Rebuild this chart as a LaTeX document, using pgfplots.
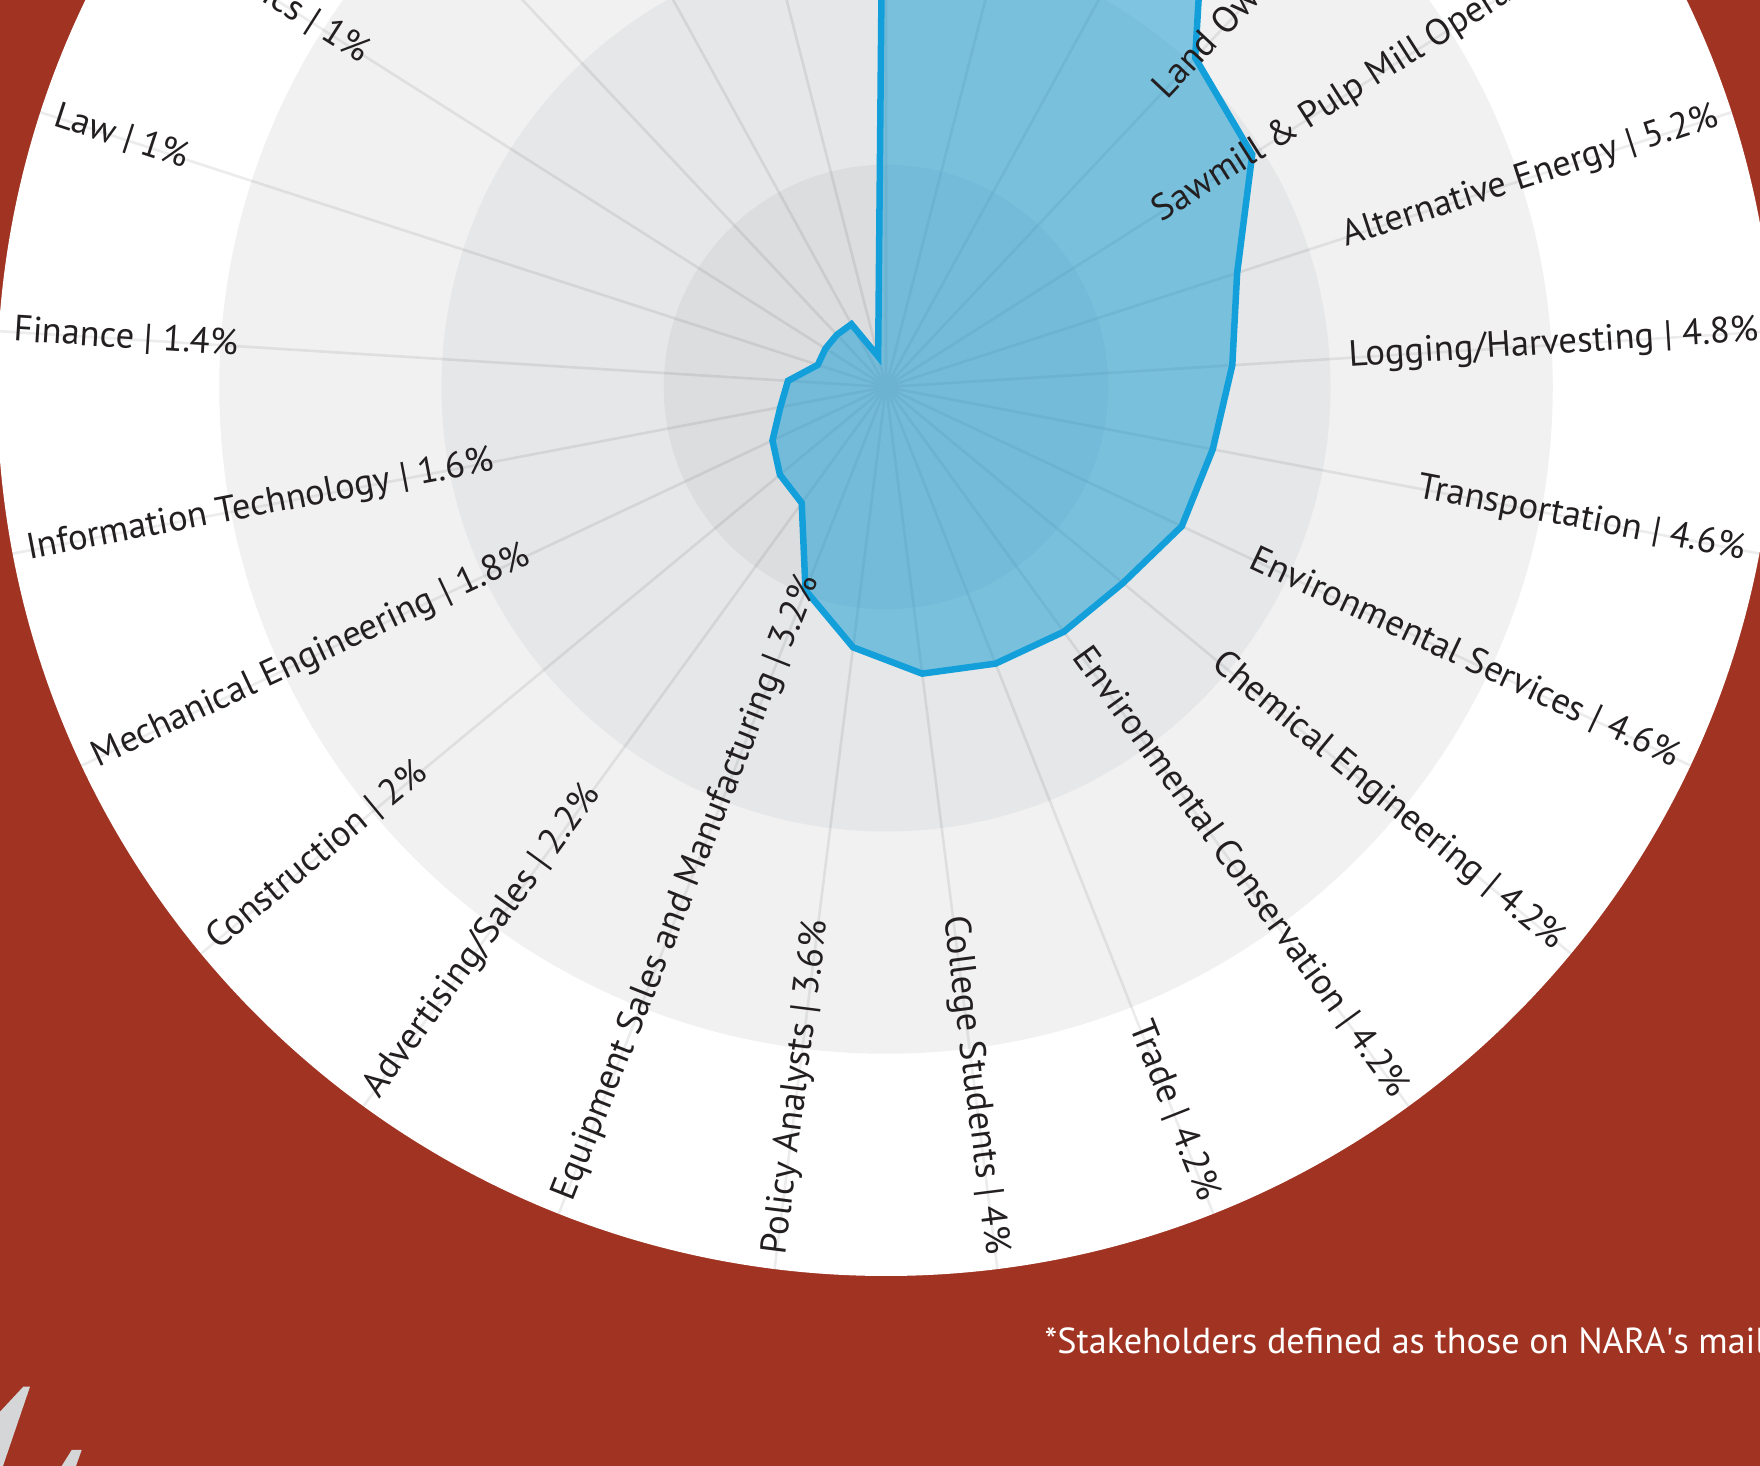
\documentclass[border=0pt]{standalone}
\usepackage{fontspec}
\setmainfont{PT Sans}
\usepackage{pgfplots}
\pgfplotsset{compat=1.18}
\usepgfplotslibrary{polar}
\definecolor{bgred}{HTML}{A03321}
\definecolor{ringA}{HTML}{DCDDDF}
\definecolor{ringB}{HTML}{E6E7E8}
\definecolor{ringC}{HTML}{F1F1F1}
\definecolor{polyline}{HTML}{129FDA}
\definecolor{polyfill}{HTML}{0E9AD4}
\definecolor{txt}{HTML}{231F20}
\definecolor{logo}{HTML}{D4D6D8}
\begin{document}
\begin{tikzpicture}
\begin{scope}
\clip (0,0) rectangle (176mm,146.6mm);
\fill[bgred] (0,0) rectangle (176mm,146.6mm);
\coordinate (C) at (88.6mm,107.9mm);
\fill[white] (C) circle (88.9mm);
\fill[ringC] (C) circle (66.675mm);
\fill[ringB] (C) circle (44.45mm);
\fill[ringA] (C) circle (22.225mm);
\fill[logo] (2.33mm,7.93mm) -- (3.0mm,7.93mm) -- (0.3mm,0) -- (0,0) -- (0,5.43mm) -- cycle;
\fill[logo] (7.17mm,1.6mm) -- (8.17mm,1.6mm) -- (7.6mm,0) -- (6.17mm,0) -- cycle;
\node[anchor=base west, inner sep=0pt, text=white, font=\fontsize{10.3pt}{12pt}\selectfont] at (104.4mm,11.2mm) {*Stakeholders defined as those on NARA\textquotesingle s mailing list};
\begin{polaraxis}[
  at={(C)}, anchor=center,
  scale only axis, width=177.8mm, height=177.8mm,
  xmin=0, xmax=360, ymin=0, ymax=12.4,
  xtick={90,75.6,61.2,46.8,32.4,18,3.6,349.2,334.8,320.4,306,291.6,277.2,262.8,248.4,234,219.6,205.2,190.8,176.4,162,147.6,133.2,118.8,104.4},
  xticklabels={},
  ytick=\empty,
  xmajorgrids,
  major grid style={draw=black, draw opacity=0.075, line width=0.75pt},
  axis line style={draw=none},
  major tick length=0pt,
  clip=false,
]
\addplot[draw=polyline, line width=1.85pt, line join=miter, fill=polyfill, fill opacity=0.5, mark=none] coordinates {
(90,12.4) (75.6,10) (61.2,9.4) (46.8,6.3) (32.4,6.05) (18,5.15) (3.6,4.84)
(349.2,4.64) (334.8,4.56) (320.4,4.29) (306,4.22) (291.6,4.15) (277.2,4.03)
(262.8,3.66) (248.4,3.05) (234,2.0) (219.6,1.92) (205.2,1.75) (190.8,1.5)
(176.4,1.37) (162,1.0) (147.6,1.0) (133.2,1.0) (118.8,1.0) (104.4,0.44) (90,12.4)
};
\tikzset{lab/.style={text=txt, inner sep=0pt, font=\fontsize{10.4pt}{12pt}\selectfont}}
\node[lab, anchor=mid east, rotate=46.8] at (axis cs:46.8,12.2) {Land Owners/Managers | 6.2\%};
\node[lab, anchor=mid east, rotate=32.4] at (axis cs:32.4,12.2) {Sawmill \& Pulp Mill Operators | 6\%};
\node[lab, anchor=mid east, rotate=18] at (axis cs:18,12.2) {Alternative Energy | 5.2\%};
\node[lab, anchor=mid east, rotate=3.6] at (axis cs:3.6,12.2) {Logging/Harvesting | 4.8\%};
\node[lab, anchor=mid east, rotate=-10.8] at (axis cs:349.2,12.2) {Transportation | 4.6\%};
\node[lab, anchor=mid east, rotate=-25.2] at (axis cs:334.8,12.2) {Environmental Services | 4.6\%};
\node[lab, anchor=mid east, rotate=-39.6] at (axis cs:320.4,12.2) {Chemical Engineering | 4.2\%};
\node[lab, anchor=mid east, rotate=-54] at (axis cs:306,12.2) {Environmental Conservation | 4.2\%};
\node[lab, anchor=mid east, rotate=-68.4] at (axis cs:291.6,12.2) {Trade | 4.2\%};
\node[lab, anchor=mid east, rotate=-82.8] at (axis cs:277.2,12.2) {College Students | 4\%};
\node[lab, anchor=mid west, rotate=82.8] at (axis cs:262.8,12.2) {Policy Analysts | 3.6\%};
\node[lab, anchor=mid west, rotate=68.4] at (axis cs:248.4,12.2) {Equipment Sales and Manufacturing | 3.2\%};
\node[lab, anchor=mid west, rotate=54] at (axis cs:234,12.2) {Advertising/Sales | 2.2\%};
\node[lab, anchor=mid west, rotate=39.6] at (axis cs:219.6,12.2) {Construction | 2\%};
\node[lab, anchor=mid west, rotate=25.2] at (axis cs:205.2,12.2) {Mechanical Engineering | 1.8\%};
\node[lab, anchor=mid west, rotate=10.8] at (axis cs:190.8,12.2) {Information Technology | 1.6\%};
\node[lab, anchor=mid west, rotate=-3.6] at (axis cs:176.4,12.2) {Finance | 1.4\%};
\node[lab, anchor=mid west, rotate=-18] at (axis cs:162,12.2) {Law | 1\%};
\node[lab, anchor=mid west, rotate=-32.4] at (axis cs:147.6,12.2) {\hspace*{0.4em}Economics | 1\%};
\end{polaraxis}
\end{scope}
\pgfresetboundingbox
\path[use as bounding box] (0,0) rectangle (176mm,146.6mm);
\end{tikzpicture}
\end{document}
